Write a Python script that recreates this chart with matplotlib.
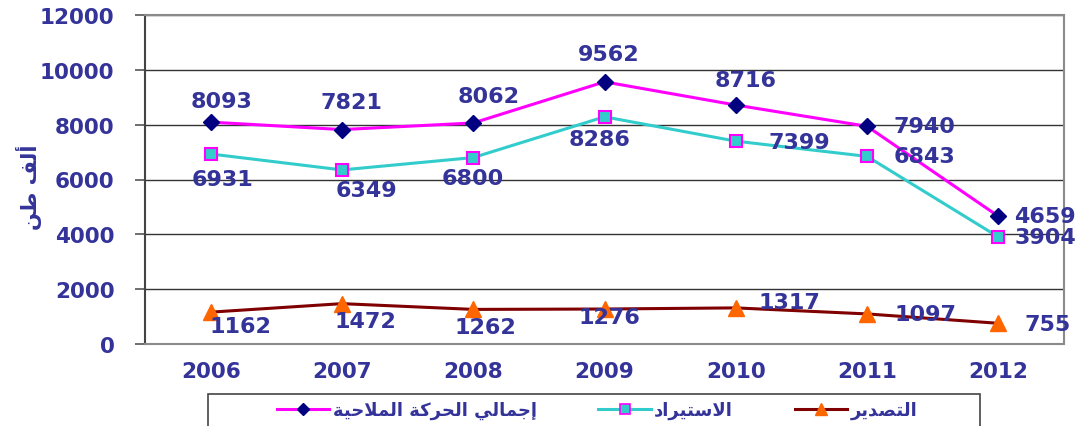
import matplotlib
matplotlib.use("Agg")
import matplotlib.pyplot as plt
from matplotlib.lines import Line2D
from matplotlib.patches import Rectangle

years = ["2006", "2007", "2008", "2009", "2010", "2011", "2012"]
total = [8093, 7821, 8062, 9562, 8716, 7940, 4659]
imports = [6931, 6349, 6800, 8286, 7399, 6843, 3904]
exports = [1162, 1472, 1262, 1276, 1317, 1097, 755]

total_name = "إجمالي الحركة الملاحية"
imports_name = "الاستيراد"
exports_name = "التصدير"
y_title = "ألف طن"

# label offsets in pixels (dx, dy) from each point
total_off = [(11, 21), (10, 28), (15, 27), (4, 28), (10, 25), (57, 0), (47, 0)]
imports_off = [(12, -25), (25, -20), (0, -20), (-5, -22), (64, -1), (57, 0), (47, 0)]
exports_off = [(30, -14), (23, -17), (12, -18), (5, -8), (54, 6), (58, 0), (49, -1)]

# matplotlib does no arabic shaping, so pick the presentation forms by hand
FORMS = {
    "\u0627": ("\uFE8D", "\uFE8E"),
    "\u0623": ("\uFE83", "\uFE84"),
    "\u0625": ("\uFE87", "\uFE88"),
    "\u062F": ("\uFEA9", "\uFEAA"),
    "\u0631": ("\uFEAD", "\uFEAE"),
    "\u0629": ("\uFE93", "\uFE94"),
    "\u062A": ("\uFE95", "\uFE96", "\uFE97", "\uFE98"),
    "\u062C": ("\uFE9D", "\uFE9E", "\uFE9F", "\uFEA0"),
    "\u062D": ("\uFEA1", "\uFEA2", "\uFEA3", "\uFEA4"),
    "\u0633": ("\uFEB1", "\uFEB2", "\uFEB3", "\uFEB4"),
    "\u0635": ("\uFEB9", "\uFEBA", "\uFEBB", "\uFEBC"),
    "\u0637": ("\uFEC1", "\uFEC2", "\uFEC3", "\uFEC4"),
    "\u0641": ("\uFED1", "\uFED2", "\uFED3", "\uFED4"),
    "\u0643": ("\uFED9", "\uFEDA", "\uFEDB", "\uFEDC"),
    "\u0644": ("\uFEDD", "\uFEDE", "\uFEDF", "\uFEE0"),
    "\u0645": ("\uFEE1", "\uFEE2", "\uFEE3", "\uFEE4"),
    "\u0646": ("\uFEE5", "\uFEE6", "\uFEE7", "\uFEE8"),
    "\u064A": ("\uFEF1", "\uFEF2", "\uFEF3", "\uFEF4"),
}
LAM_ALEF = {
    "\u0627": ("\uFEFB", "\uFEFC"),
    "\u0623": ("\uFEF7", "\uFEF8"),
    "\u0625": ("\uFEF9", "\uFEFA"),
}


def shape(text):
    chars = []
    i = 0
    while i < len(text):
        c = text[i]
        if c == "\u0644" and i + 1 < len(text) and text[i + 1] in LAM_ALEF:
            chars.append(LAM_ALEF[text[i + 1]])
            i += 2
        else:
            chars.append(FORMS.get(c, c))
            i += 1
    out = []
    for k, f in enumerate(chars):
        if isinstance(f, str):
            out.append(f)
            continue
        prev = chars[k - 1] if k > 0 else None
        nxt = chars[k + 1] if k + 1 < len(chars) else None
        joins_prev = isinstance(prev, tuple) and len(prev) == 4
        joins_next = len(f) == 4 and isinstance(nxt, tuple)
        if joins_prev and joins_next:
            out.append(f[3])
        elif joins_prev:
            out.append(f[1])
        elif joins_next:
            out.append(f[2])
        else:
            out.append(f[0])
    return "".join(reversed(out))


navy = "#333399"
num_font = dict(family="DejaVu Sans", weight="bold", color=navy)

fig = plt.figure(figsize=(10.87, 4.27), dpi=100)
ax = fig.add_axes([145 / 1087, 82 / 427, 919 / 1087, 329 / 427])

x = list(range(len(years)))
ax.plot(x, total, color="#FF00FF", lw=2.2, marker="D", ms=8,
        mfc="#000080", mec="#000080", zorder=4)
ax.plot(x, imports, color="#33CCCC", lw=2.2, marker="s", ms=9,
        mfc="#33CCCC", mec="#FF00FF", mew=1.5, zorder=3)
ax.plot(x, exports, color="#800000", lw=2.2, marker="^", ms=11,
        mfc="#FF6600", mec="#FF6600", zorder=3)

for vals, offs in [(total, total_off), (imports, imports_off), (exports, exports_off)]:
    for i, v in enumerate(vals):
        ax.annotate(str(v), (i, v), xytext=offs[i], textcoords="offset pixels",
                    ha="center", va="center", fontsize=16, zorder=5, **num_font)

ax.set_xlim(-0.5, 6.5)
ax.set_ylim(0, 12000)
ax.set_yticks(range(0, 12001, 2000))
ax.set_xticks(x)
ax.set_xticklabels(years)
ax.yaxis.grid(True, color="#333333", lw=1)
ax.set_axisbelow(True)

for lab in ax.get_xticklabels() + ax.get_yticklabels():
    lab.set_fontfamily("DejaVu Sans")
    lab.set_fontweight("bold")
    lab.set_color(navy)
    lab.set_fontsize(15.5)
ax.tick_params(axis="y", length=7, width=1.2, color="#555555", pad=15)
ax.tick_params(axis="x", length=0, pad=12)

ax.spines["left"].set_color("#444444")
ax.spines["left"].set_linewidth(1.5)
for s in ["right", "bottom", "top"]:
    ax.spines[s].set_color("#8a8a8a")
    ax.spines[s].set_linewidth(1.5)

ax.set_ylabel(shape(y_title), family=["DejaVu Sans"], weight="bold",
              color=navy, fontsize=15)
ax.yaxis.set_label_coords(-0.112, 0.48)

# legend box, cut off at the bottom like the original
fig.patches.append(Rectangle((208 / 1087, -0.05), 772 / 1087, 0.05 + 32 / 427,
                             transform=fig.transFigure, fill=False,
                             ec="#444444", lw=1.2))
handles = [
    Line2D([], [], color="#FF00FF", lw=2.2, marker="D", ms=6, mfc="#000080", mec="#000080"),
    Line2D([], [], color="#33CCCC", lw=2.2, marker="s", ms=7, mfc="#33CCCC", mec="#FF00FF", mew=1.2),
    Line2D([], [], color="#800000", lw=2.2, marker="^", ms=8, mfc="#FF6600", mec="#FF6600"),
]
names = [shape(total_name), shape(imports_name), shape(exports_name)]
fig.legend(handles, names, loc="center left", bbox_to_anchor=(268 / 1087, 1 - 411 / 427),
           ncol=3, frameon=False, handlelength=2.9, handletextpad=0.2,
           columnspacing=3.4, borderpad=0,
           prop=dict(family="DejaVu Sans", weight="bold", size=13))
for t in fig.legends[0].get_texts():
    t.set_color(navy)

fig.savefig("out.png", dpi=100)
